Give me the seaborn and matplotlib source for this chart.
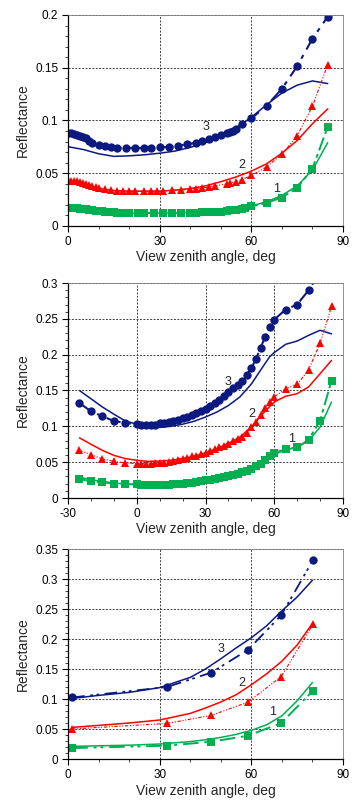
import matplotlib
matplotlib.use("Agg")
import matplotlib.pyplot as plt
from matplotlib.ticker import MultipleLocator
import seaborn as sns
import pandas as pd

sns.set_style("white")
plt.rcParams['font.family'] = ['Liberation Sans', 'DejaVu Sans']
plt.rcParams['axes.unicode_minus'] = False

NAVY = '#0c1a80'
RED = '#ff0000'
GREEN = '#00b050'

# ---------------- Panel 1 ----------------
p1_m3_x = [0, 1, 2, 3, 4, 5, 6, 7, 8, 10, 12, 14, 16, 19, 22, 25, 27, 30, 33, 36, 39, 42, 44, 46, 48,
           50, 52, 53, 54, 55, 57, 60, 65, 70, 75, 80, 85]
p1_m3_y = [0.088, 0.0878, 0.087, 0.086, 0.085, 0.084, 0.083, 0.081, 0.079, 0.077, 0.0755, 0.0745, 0.074,
           0.074, 0.074, 0.074, 0.074, 0.0745, 0.075, 0.076, 0.0775, 0.079, 0.0805, 0.082, 0.084,
           0.086, 0.088, 0.089, 0.0905, 0.092, 0.097, 0.102, 0.114, 0.130, 0.1515, 0.1775, 0.1985]
p1_c3_x = [0, 5, 10, 15, 20, 25, 30, 35, 40, 45, 50, 55, 60, 65, 70, 75, 80, 85]
p1_c3_y = [0.0752, 0.0725, 0.0685, 0.066, 0.0665, 0.0675, 0.069, 0.071, 0.0745, 0.079, 0.085, 0.093,
           0.103, 0.115, 0.126, 0.1335, 0.1375, 0.135]

p1_m2_x = [0, 1, 2, 3, 4, 5, 6, 7, 8, 9, 10, 12, 14, 16, 18, 20, 22, 25, 27, 29, 31, 34, 37, 40, 42,
           44, 46, 48, 52, 53, 55, 57, 60, 65, 70, 75, 80, 85]
p1_m2_y = [0.0435, 0.043, 0.0428, 0.0425, 0.042, 0.041, 0.040, 0.039, 0.038, 0.037, 0.036, 0.035, 0.034,
           0.0335, 0.0333, 0.033, 0.033, 0.033, 0.033, 0.033, 0.0333, 0.0337, 0.034, 0.035, 0.0355,
           0.036, 0.037, 0.038, 0.040, 0.041, 0.042, 0.044, 0.048, 0.056, 0.068, 0.0855, 0.1135, 0.153]
p1_c2_x = [0, 5, 10, 15, 20, 25, 30, 35, 40, 45, 50, 55, 60, 65, 70, 75, 80, 85]
p1_c2_y = [0.0415, 0.039, 0.0355, 0.0335, 0.033, 0.033, 0.033, 0.034, 0.0355, 0.038, 0.042, 0.0465,
           0.052, 0.059, 0.069, 0.081, 0.097, 0.111]

p1_m1_x = [0, 1, 2, 3, 4, 5, 6, 7, 8, 9, 10, 11, 12, 13, 14, 15, 16, 17, 18, 20, 23, 25, 28, 31, 34,
           37, 40, 42, 44, 46, 48, 50, 52, 53, 54, 55, 57, 58, 60, 65, 70, 75, 80, 85]
p1_m1_y = [0.0175, 0.0173, 0.0171, 0.0168, 0.0165, 0.0162, 0.0158, 0.0154, 0.015, 0.0146, 0.0142,
           0.0138, 0.0135, 0.0132, 0.013, 0.0128, 0.0127, 0.0126, 0.0125, 0.0125, 0.0125, 0.0125,
           0.0125, 0.0125, 0.0125, 0.0125, 0.0126, 0.0127, 0.0128, 0.013, 0.0132, 0.0135, 0.0145,
           0.015, 0.0152, 0.0155, 0.0165, 0.017, 0.0185, 0.022, 0.027, 0.0362, 0.0545, 0.094]
p1_c1_x = [0, 5, 10, 15, 20, 25, 30, 35, 40, 45, 50, 55, 60, 65, 70, 75, 80, 85]
p1_c1_y = [0.017, 0.0155, 0.0137, 0.0127, 0.0123, 0.0122, 0.0123, 0.0125, 0.013, 0.0137, 0.0145,
           0.0158, 0.019, 0.023, 0.029, 0.038, 0.053, 0.079]

# ---------------- Panel 2 ----------------
p2_m3_x = [-25, -20, -15, -10, -5, 0, 2, 4, 6, 8, 10, 12, 14, 16, 18, 20, 22, 24, 26, 28, 30, 32, 34,
           36, 38, 40, 42, 44, 46, 48, 50, 52, 54, 56, 58, 60, 65, 70, 75, 80]
p2_m3_y = [0.1325, 0.121, 0.114, 0.1075, 0.1047, 0.103, 0.1025, 0.102, 0.102, 0.1025, 0.104, 0.105,
           0.106, 0.107, 0.109, 0.111, 0.113, 0.116, 0.118, 0.121, 0.1245, 0.128, 0.132, 0.137, 0.142,
           0.148, 0.153, 0.157, 0.163, 0.172, 0.181, 0.194, 0.209, 0.225, 0.238, 0.249, 0.263, 0.270,
           0.290, 0.315]
p2_c3_x = [-25, -20, -15, -10, -5, 0, 5, 10, 15, 20, 25, 30, 35, 40, 45, 50, 55, 58, 60, 65, 70, 75, 80, 85]
p2_c3_y = [0.150, 0.1385, 0.127, 0.117, 0.1075, 0.103, 0.099, 0.0985, 0.100, 0.103, 0.107, 0.113,
           0.120, 0.129, 0.141, 0.159, 0.183, 0.197, 0.203, 0.2145, 0.219, 0.227, 0.234, 0.229]

p2_m2_x = [-25, -20, -15, -10, -5, 0, 2, 4, 6, 8, 10, 12, 14, 16, 18, 20, 22, 24, 26, 28, 30, 32, 34,
           36, 38, 40, 42, 44, 46, 48, 50, 52, 54, 56, 58, 60, 65, 70, 75, 80, 85]
p2_m2_y = [0.0665, 0.0605, 0.0545, 0.051, 0.049, 0.048, 0.048, 0.048, 0.048, 0.0485, 0.049, 0.0495,
           0.050, 0.051, 0.053, 0.055, 0.056, 0.058, 0.059, 0.061, 0.063, 0.065, 0.068, 0.071, 0.073,
           0.076, 0.079, 0.082, 0.085, 0.090, 0.099, 0.106, 0.116, 0.126, 0.134, 0.141, 0.1525,
           0.1585, 0.179, 0.216, 0.2675]
p2_c2_x = [-25, -20, -15, -10, -5, 0, 5, 10, 15, 20, 25, 30, 35, 40, 45, 50, 55, 60, 65, 70, 75, 80, 85]
p2_c2_y = [0.084, 0.075, 0.0665, 0.0595, 0.055, 0.0526, 0.051, 0.0516, 0.0526, 0.055, 0.058, 0.063,
           0.069, 0.076, 0.085, 0.099, 0.1177, 0.134, 0.142, 0.1456, 0.155, 0.1735, 0.192]

p2_m1_x = [-25, -20, -15, -10, -5, 0, 2, 4, 6, 8, 10, 12, 14, 16, 18, 20, 22, 24, 26, 28, 30, 32, 34,
           36, 38, 40, 42, 44, 46, 48, 50, 52, 54, 56, 58, 60, 65, 70, 75, 80, 85]
p2_m1_y = [0.0265, 0.0233, 0.022, 0.020, 0.019, 0.019, 0.018, 0.0178, 0.0177, 0.0178, 0.018, 0.0182,
           0.0185, 0.019, 0.0195, 0.020, 0.021, 0.0215, 0.0225, 0.0235, 0.0245, 0.0255, 0.027, 0.028,
           0.029, 0.031, 0.032, 0.034, 0.036, 0.038, 0.041, 0.044, 0.048, 0.053, 0.058, 0.063, 0.068,
           0.0705, 0.0815, 0.108, 0.1637]
p2_c1_x = [-25, -20, -15, -10, -5, 0, 5, 10, 15, 20, 25, 30, 35, 40, 45, 50, 55, 60, 65, 70, 75, 80, 85]
p2_c1_y = [0.029, 0.0256, 0.023, 0.021, 0.0195, 0.019, 0.018, 0.0182, 0.019, 0.020, 0.022, 0.025,
           0.028, 0.031, 0.035, 0.040, 0.049, 0.061, 0.067, 0.071, 0.080, 0.099, 0.134]

# ---------------- Panel 3 ----------------
p3_x = [1.4, 32.4, 46.9, 58.9, 69.8, 80.2]
p3_m3_y = [0.1026, 0.120, 0.144, 0.182, 0.2396, 0.3317]
p3_m2_y = [0.050, 0.0593, 0.0727, 0.0948, 0.1375, 0.2246]
p3_m1_y = [0.0183, 0.0222, 0.0288, 0.0388, 0.0599, 0.114]
p3_c_x = [1.4, 10, 20, 30, 40, 45, 50, 55, 60, 65, 70, 75, 80]
p3_c3_y = [0.101, 0.106, 0.111, 0.119, 0.136, 0.150, 0.167, 0.185, 0.202, 0.222, 0.247, 0.270, 0.298]
p3_c2_y = [0.0527, 0.056, 0.060, 0.065, 0.076, 0.085, 0.095, 0.107, 0.1237, 0.142, 0.163, 0.190, 0.226]
p3_c1_y = [0.021, 0.022, 0.023, 0.025, 0.029, 0.032, 0.036, 0.041, 0.0477, 0.057, 0.072, 0.097, 0.1275]

x_label = "View zenith angle, deg"
y_label = "Reflectance"

W, H = 352, 805
fig = plt.figure(figsize=(W / 100, H / 100), dpi=100)


def make_ax(top_px, bottom_px):
    left, right = 68, 343
    return fig.add_axes([left / W, (H - bottom_px) / H, (right - left) / W, (bottom_px - top_px) / H])


def style_ax(ax, xlim, ylim, xmaj, ymaj, yfmt):
    ax.set_xlim(*xlim)
    ax.set_ylim(*ylim)
    ax.xaxis.set_major_locator(MultipleLocator(xmaj))
    ax.xaxis.set_minor_locator(MultipleLocator(10))
    ax.yaxis.set_major_locator(MultipleLocator(ymaj))
    ax.yaxis.set_minor_locator(MultipleLocator(0.01))
    ax.set_yticklabels([yfmt(v) for v in ax.get_yticks()])
    ax.tick_params(axis='both', which='major', direction='out', length=4, width=0.8,
                   labelsize=8.5, colors='black', bottom=True, left=True, pad=3)
    ax.tick_params(axis='both', which='minor', direction='out', length=2.5, width=0.6,
                   bottom=True, left=True)
    ax.grid(True, which='major', color='#404040', linestyle=(0, (2, 1.5)), linewidth=0.7)
    for s in ['left', 'bottom']:
        ax.spines[s].set_color('black')
        ax.spines[s].set_linewidth(0.9)
    for s in ['top', 'right']:
        ax.spines[s].set_color('#808080')
        ax.spines[s].set_linewidth(0.6)
    ax.set_xlabel(x_label, fontsize=10, labelpad=2)
    ax.set_ylabel(y_label, fontsize=10, labelpad=4)


def fmt(v):
    s = ('%.2f' % v).rstrip('0').rstrip('.')
    return s if s else '0'


def measured(ax, x, y, color, marker, ms, ls, lw):
    df = pd.DataFrame({'x': x, 'y': y})
    sns.lineplot(data=df, x='x', y='y', ax=ax, color=color, linestyle=ls, linewidth=lw,
                 marker=marker, markersize=ms, markeredgewidth=0, sort=False, estimator=None)


def model(ax, x, y, color, lw=1.1):
    df = pd.DataFrame({'x': x, 'y': y})
    sns.lineplot(data=df, x='x', y='y', ax=ax, color=color, linewidth=lw, sort=False, estimator=None)


LS3 = (0, (7, 3, 2, 3))
LS2 = (0, (3, 1.5, 1, 1.5, 1, 1.5))
LS1 = (0, (7, 2, 2, 2))

# Panel 1
ax1 = make_ax(15, 226)
model(ax1, p1_c3_x, p1_c3_y, NAVY)
model(ax1, p1_c2_x, p1_c2_y, RED)
model(ax1, p1_c1_x, p1_c1_y, GREEN)
measured(ax1, p1_m3_x, p1_m3_y, NAVY, 'o', 6, LS3, 1.5)
measured(ax1, p1_m2_x, p1_m2_y, RED, '^', 5.5, LS2, 0.8)
measured(ax1, p1_m1_x, p1_m1_y, GREEN, 's', 5.5, LS1, 1.4)
style_ax(ax1, (0, 90), (0, 0.2), 30, 0.05, fmt)
ax1.text(45.3, 0.094, '3', fontsize=9, ha='center', va='center')
ax1.text(57, 0.0576, '2', fontsize=9, ha='center', va='center')
ax1.text(68.4, 0.0354, '1', fontsize=9, ha='center', va='center')

# Panel 2
ax2 = make_ax(283, 498)
model(ax2, p2_c3_x, p2_c3_y, NAVY)
model(ax2, p2_c2_x, p2_c2_y, RED)
model(ax2, p2_c1_x, p2_c1_y, GREEN)
measured(ax2, p2_m3_x, p2_m3_y, NAVY, 'o', 6, LS3, 1.5)
measured(ax2, p2_m2_x, p2_m2_y, RED, '^', 5.5, LS2, 0.8)
measured(ax2, p2_m1_x, p2_m1_y, GREEN, 's', 5.5, LS1, 1.4)
style_ax(ax2, (-30, 90), (0, 0.3), 30, 0.05, fmt)
ax2.text(39.9, 0.162, '3', fontsize=9, ha='center', va='center')
ax2.text(50.3, 0.117, '2', fontsize=9, ha='center', va='center')
ax2.text(67.5, 0.083, '1', fontsize=9, ha='center', va='center')

# Panel 3
ax3 = make_ax(549, 759)
model(ax3, p3_c_x, p3_c3_y, NAVY)
model(ax3, p3_c_x, p3_c2_y, RED)
model(ax3, p3_c_x, p3_c1_y, GREEN)
measured(ax3, p3_x, p3_m3_y, NAVY, 'o', 6, (0, (7, 3, 1.5, 2, 1.5, 3)), 1.3)
measured(ax3, p3_x, p3_m2_y, RED, '^', 5.5, LS2, 0.8)
measured(ax3, p3_x, p3_m1_y, GREEN, 's', 5.5, (0, (8, 3, 1.5, 2, 1.5, 3)), 1.4)
style_ax(ax3, (0, 90), (0, 0.35), 30, 0.05, fmt)
ax3.text(50.2, 0.183, '3', fontsize=9, ha='center', va='center')
ax3.text(57, 0.126, '2', fontsize=9, ha='center', va='center')
ax3.text(66.8, 0.079, '1', fontsize=9, ha='center', va='center')

fig.savefig('out.png', dpi=100)
